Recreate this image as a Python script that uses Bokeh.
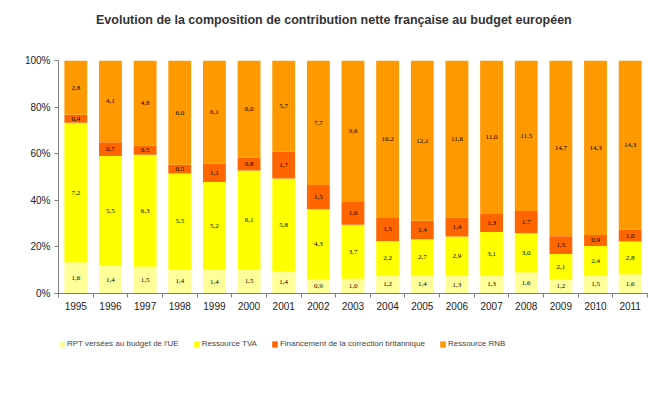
import numpy as np
from bokeh.plotting import figure
from bokeh.layouts import column
from bokeh.models import FixedTicker, NumeralTickFormatter, ColumnDataSource, Range1d, Legend, LegendItem, Div
from bokeh.embed import file_html
from bokeh.resources import INLINE

years = ["1995", "1996", "1997", "1998", "1999", "2000", "2001", "2002", "2003",
         "2004", "2005", "2006", "2007", "2008", "2009", "2010", "2011"]
rpt = [1.6, 1.4, 1.5, 1.4, 1.4, 1.5, 1.4, 0.9, 1.0, 1.2, 1.4, 1.3, 1.3, 1.6, 1.2, 1.5, 1.6]
tva = [7.2, 5.5, 6.3, 5.5, 5.2, 6.1, 5.8, 4.3, 3.7, 2.2, 2.7, 2.9, 3.1, 3.0, 2.1, 2.4, 2.8]
corr = [0.4, 0.7, 0.5, 0.5, 1.1, 0.8, 1.7, 1.5, 1.6, 1.5, 1.4, 1.4, 1.3, 1.7, 1.5, 0.9, 1.0]
rnb = [2.8, 4.1, 4.8, 6.0, 6.1, 6.0, 5.7, 7.7, 9.6, 10.2, 12.1, 11.6, 11.0, 11.5, 14.7, 14.3, 14.3]
series_names = ["RPT versées au budget de l'UE", "Ressource TVA",
                "Financement de la correction britannique", "Ressource RNB"]
colors = ["#FFFF99", "#FFFF00", "#FF6600", "#FF9900"]
title_text = "Evolution de la composition de contribution nette française au budget européen"

vals = np.array([rpt, tva, corr, rnb], dtype=float)
tot = vals.sum(axis=0)
shares = vals / tot
x = np.arange(len(years))
keys = ["s0", "s1", "s2", "s3"]
data = {"x": x}
for k, s in zip(keys, shares):
    data[k] = s
src = ColumnDataSource(data)

title_div = Div(text=title_text, width=649, height=52, margin=(0, 0, 0, 0),
                styles={"font-family": "Liberation Sans", "font-weight": "bold",
                        "font-size": "12.5px", "color": "#333333",
                        "padding-top": "13px", "padding-left": "96px",
                        "line-height": "14px", "white-space": "nowrap"})

p = figure(width=649, height=268, output_backend="svg", toolbar_location=None,
           x_range=Range1d(-0.5, len(years) - 0.5), y_range=Range1d(0, 1),
           min_border_left=58, min_border_right=2, min_border_top=8, min_border_bottom=27)
p.outline_line_color = None
p.xgrid.grid_line_color = None
p.ygrid.grid_line_color = None

p.vbar_stack(keys, x="x", width=0.66, source=src, color=colors, line_color=None)

# segment labels
cum = np.cumsum(shares, axis=0)
lx, ly, lt = [], [], []
for i in range(4):
    mids = cum[i] - shares[i] / 2
    for j in range(len(years)):
        lx.append(x[j])
        ly.append(mids[j])
        lt.append(("%.1f" % vals[i][j]).replace(".", ","))
p.text(x=lx, y=ly, text=lt, text_align="center", text_baseline="middle",
       text_font_size="7px", text_color="black", text_font="Liberation Sans")

# axes
p.xaxis.ticker = FixedTicker(ticks=list(x), minor_ticks=list(np.arange(-0.5, len(years), 1.0)))
p.xaxis.major_label_overrides = {int(i): y for i, y in zip(x, years)}
p.xaxis.major_tick_out = 0
p.xaxis.major_tick_in = 0
p.xaxis.minor_tick_out = 4
p.xaxis.minor_tick_in = 0
p.xaxis.axis_line_color = "#808080"
p.xaxis.minor_tick_line_color = "#808080"
p.xaxis.major_label_text_font = "Liberation Sans"
p.xaxis.major_label_text_font_size = "10px"
p.xaxis.major_label_text_color = "#222222"
p.xaxis.major_label_standoff = 4

p.yaxis.ticker = FixedTicker(ticks=[0, 0.2, 0.4, 0.6, 0.8, 1.0])
p.yaxis.formatter = NumeralTickFormatter(format="0%")
p.yaxis.major_tick_out = 4
p.yaxis.major_tick_in = 0
p.yaxis.minor_tick_line_color = None
p.yaxis.axis_line_color = "#808080"
p.yaxis.major_tick_line_color = "#808080"
p.yaxis.major_label_text_font = "Liberation Sans"
p.yaxis.major_label_text_font_size = "10px"
p.yaxis.major_label_text_color = "#222222"
p.yaxis.major_label_standoff = 4

# legend figure (bars drawn out of view; only legend visible)
pl = figure(width=649, height=57, output_backend="svg", toolbar_location=None,
            x_axis_location=None, y_axis_location=None,
            x_range=Range1d(-0.5, len(years) - 0.5), y_range=Range1d(5, 6),
            min_border_left=0, min_border_right=0, min_border_top=0, min_border_bottom=0)
pl.grid.visible = False
pl.outline_line_color = None
rs = pl.vbar_stack(keys, x="x", width=0.66, source=src, color=colors, line_color=None)
items = [LegendItem(label=n, renderers=[r]) for n, r in zip(series_names, rs)]
lg = Legend(items=items)
lg.orientation = "horizontal"
lg.location = (0, 29)
lg.border_line_color = None
lg.background_fill_alpha = 0
lg.label_text_font = "Liberation Sans"
lg.label_text_font_size = "8px"
lg.glyph_width = 7
lg.glyph_height = 8
lg.label_standoff = 2
lg.spacing = 14
lg.padding = 0
lg.margin = 0
pl.add_layout(lg, "center")

layout = column(title_div, p, pl, spacing=0)
open("out.html", "w").write(file_html(layout, INLINE))
